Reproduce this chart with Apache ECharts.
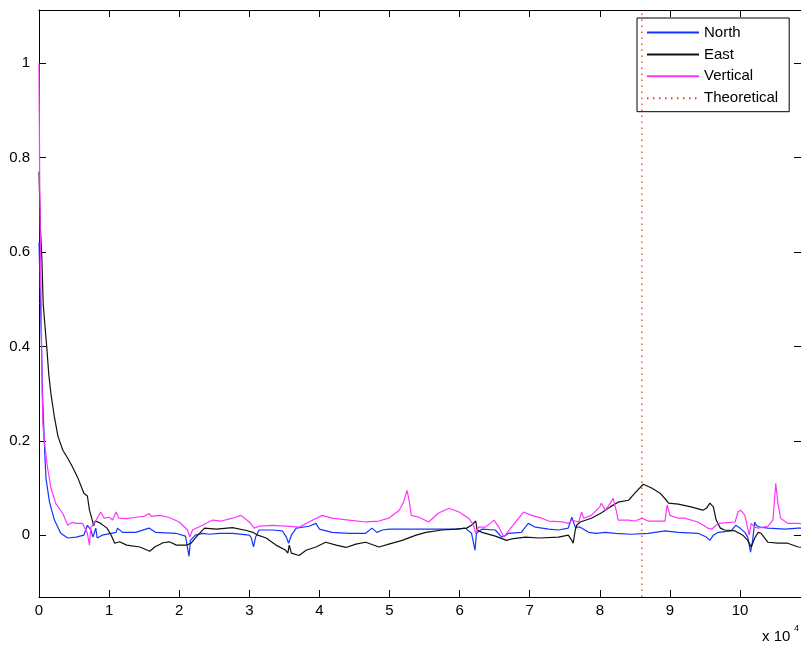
<!DOCTYPE html>
<html>
<head>
<meta charset="utf-8">
<script src="https://cdn.jsdelivr.net/npm/echarts@6/dist/echarts.min.js"></script>
<style>html,body{margin:0;padding:0;background:#fff}#c{width:801px;height:649px}</style>
</head>
<body>
<div id="c"></div>
<script>
// x values are in units of 10^4
const xTicks = [0,1,2,3,4,5,6,7,8,9,10];
const yTicks = [0,0.2,0.4,0.6,0.8,1];
const seriesNames = ['North','East','Vertical','Theoretical'];
const theoreticalX = 8.6;

const north = [[0,0.62],[0.03,0.44],[0.05,0.3],[0.07,0.22],[0.08,0.18],[0.1,0.12],[0.15,0.07],[0.22,0.032],[0.31,0.004],[0.41,-0.006],[0.53,-0.004],[0.64,0],[0.69,0.021],[0.74,0.011],[0.77,-0.004],[0.81,0.015],[0.83,-0.006],[0.9,0],[1.1,0.006],[1.12,0.015],[1.19,0.006],[1.38,0.006],[1.57,0.015],[1.66,0.006],[1.95,0.004],[2.09,-0.002],[2.14,-0.045],[2.16,-0.011],[2.23,0],[2.33,0.004],[2.43,0.002],[2.57,0.004],[2.76,0.004],[3.0,0],[3.03,-0.006],[3.06,-0.025],[3.09,-0.004],[3.14,0.011],[3.33,0.011],[3.47,0.009],[3.53,-0.004],[3.56,-0.017],[3.6,0],[3.67,0.015],[3.85,0.019],[3.95,0.025],[4.0,0.013],[4.18,0.006],[4.42,0.004],[4.66,0.004],[4.75,0.015],[4.82,0.006],[4.9,0.011],[5.0,0.013],[5.42,0.013],[5.66,0.013],[5.95,0.013],[6.08,0.015],[6.17,0.004],[6.22,-0.032],[6.24,0.004],[6.32,0.013],[6.51,0.011],[6.6,-0.004],[6.66,0],[6.7,0.004],[6.88,0.006],[6.98,0.025],[7.08,0.017],[7.27,0.013],[7.41,0.011],[7.55,0.015],[7.6,0.038],[7.62,0.036],[7.65,0.017],[7.72,0.017],[7.84,0.006],[7.95,0.004],[8.08,0.006],[8.22,0.004],[8.45,0.002],[8.69,0.004],[8.93,0.009],[9.12,0.006],[9.4,0.004],[9.52,-0.004],[9.57,-0.011],[9.62,0],[9.69,0.006],[9.87,0.009],[9.94,0.021],[10.0,0.015],[10.07,0.006],[10.11,-0.004],[10.15,-0.036],[10.18,-0.011],[10.21,0.028],[10.23,0.021],[10.28,0.017],[10.4,0.015],[10.64,0.013],[10.83,0.015],[10.9,0.015]];

const east = [[0,0.77],[0.02,0.65],[0.04,0.59],[0.06,0.49],[0.09,0.435],[0.11,0.40],[0.14,0.34],[0.17,0.30],[0.22,0.25],[0.27,0.21],[0.34,0.18],[0.41,0.163],[0.48,0.144],[0.55,0.123],[0.64,0.089],[0.69,0.083],[0.72,0.053],[0.76,0.032],[0.78,0.02],[0.8,0.03],[0.87,0.026],[0.97,0.015],[1.03,0.0],[1.08,-0.017],[1.15,-0.014],[1.25,-0.021],[1.44,-0.025],[1.58,-0.034],[1.65,-0.025],[1.77,-0.016],[1.86,-0.014],[1.96,-0.021],[2.1,-0.021],[2.17,-0.017],[2.24,-0.004],[2.36,0.015],[2.53,0.013],[2.76,0.016],[2.96,0.01],[3.05,0.006],[3.12,0],[3.24,-0.006],[3.38,-0.021],[3.52,-0.032],[3.55,-0.038],[3.57,-0.021],[3.6,-0.038],[3.71,-0.043],[3.81,-0.032],[3.95,-0.025],[4.09,-0.015],[4.24,-0.021],[4.38,-0.026],[4.52,-0.019],[4.66,-0.015],[4.85,-0.025],[4.99,-0.019],[5.18,-0.011],[5.38,0],[5.52,0.006],[5.75,0.011],[5.95,0.013],[6.1,0.015],[6.17,0.021],[6.23,0.03],[6.25,0.011],[6.32,0.006],[6.51,-0.002],[6.67,-0.011],[6.74,-0.008],[6.94,-0.004],[7.13,-0.006],[7.41,-0.004],[7.55,0],[7.6,-0.011],[7.62,-0.017],[7.65,0.011],[7.67,0.021],[7.72,0.028],[7.88,0.036],[8.02,0.047],[8.15,0.06],[8.26,0.07],[8.41,0.074],[8.5,0.089],[8.62,0.108],[8.74,0.1],[8.86,0.089],[8.95,0.074],[8.98,0.068],[9.12,0.066],[9.3,0.06],[9.47,0.053],[9.52,0.057],[9.57,0.068],[9.62,0.06],[9.66,0.032],[9.72,0.015],[9.78,0.011],[9.93,0.009],[10.04,0],[10.11,-0.011],[10.16,-0.025],[10.21,-0.006],[10.26,0.006],[10.3,0.004],[10.4,-0.015],[10.54,-0.017],[10.68,-0.017],[10.83,-0.025],[10.9,-0.026]];

const vertical = [[0,1.0],[0.01,0.75],[0.03,0.5],[0.045,0.3],[0.055,0.237],[0.075,0.2],[0.12,0.145],[0.17,0.1],[0.24,0.067],[0.34,0.046],[0.41,0.021],[0.47,0.027],[0.53,0.025],[0.62,0.025],[0.69,0.004],[0.72,-0.021],[0.74,0.017],[0.79,0.025],[0.83,0.036],[0.88,0.049],[0.93,0.036],[1.0,0.038],[1.05,0.032],[1.1,0.049],[1.14,0.036],[1.25,0.035],[1.38,0.038],[1.5,0.04],[1.57,0.046],[1.6,0.04],[1.72,0.042],[1.85,0.038],[2.0,0.028],[2.12,0.011],[2.15,-0.004],[2.19,0.011],[2.33,0.021],[2.48,0.032],[2.6,0.03],[2.76,0.036],[2.88,0.042],[3.0,0.028],[3.07,0.015],[3.14,0.019],[3.33,0.021],[3.52,0.019],[3.71,0.017],[3.85,0.028],[4.04,0.042],[4.18,0.036],[4.42,0.032],[4.66,0.028],[4.85,0.03],[4.99,0.036],[5.14,0.053],[5.2,0.07],[5.25,0.095],[5.28,0.074],[5.31,0.042],[5.42,0.038],[5.56,0.028],[5.7,0.047],[5.85,0.057],[5.99,0.049],[6.13,0.036],[6.2,0.021],[6.23,0.004],[6.27,0.017],[6.37,0.017],[6.49,0.032],[6.56,0.017],[6.63,-0.004],[6.67,0.004],[6.8,0.028],[6.91,0.049],[7.03,0.042],[7.17,0.036],[7.27,0.03],[7.48,0.028],[7.55,0.025],[7.6,0.032],[7.7,0.028],[7.74,0.049],[7.77,0.036],[7.88,0.042],[8.0,0.06],[8.02,0.068],[8.08,0.053],[8.15,0.068],[8.19,0.078],[8.24,0.049],[8.26,0.032],[8.41,0.032],[8.5,0.03],[8.6,0.036],[8.69,0.03],[8.83,0.03],[8.93,0.03],[8.96,0.064],[9.0,0.042],[9.02,0.038],[9.12,0.036],[9.21,0.036],[9.4,0.028],[9.54,0.015],[9.6,0.013],[9.69,0.025],[9.93,0.028],[9.97,0.049],[10.01,0.053],[10.07,0.042],[10.09,0.028],[10.13,0],[10.16,0.025],[10.21,0.017],[10.26,0.015],[10.4,0.019],[10.47,0.032],[10.51,0.11],[10.54,0.068],[10.58,0.036],[10.68,0.025],[10.83,0.025],[10.9,0.024]];

const xMin = 0, xMax = 10.87, yMin = -0.131, yMax = 1.113;
const theoretical = [[theoreticalX, yMin], [theoreticalX, yMax]];

const FONT = 'Liberation Sans, Arial, sans-serif';
const chart = echarts.init(document.getElementById('c'), null, {renderer: 'canvas'});
const axisCommon = {
  type: 'value',
  axisLine: {show: true, onZero: false, lineStyle: {color: '#000', width: 1}},
  axisTick: {show: true, inside: true, length: 7, lineStyle: {color: '#000'}},
  splitLine: {show: false}
};
chart.setOption({
  animation: false,
  backgroundColor: '#fff',
  grid: {left: 39, top: 10, right: -2, bottom: 52, containLabel: false},
  xAxis: [
    Object.assign({}, axisCommon, {min: xMin, max: xMax, position: 'bottom',
      axisTick: Object.assign({}, axisCommon.axisTick, {customValues: xTicks}),
      axisLabel: {customValues: xTicks, margin: 6, color: '#000', fontSize: 15, fontFamily: FONT}}),
    Object.assign({}, axisCommon, {min: xMin, max: xMax, position: 'top',
      axisTick: Object.assign({}, axisCommon.axisTick, {customValues: xTicks}),
      axisLabel: {show: false}})
  ],
  yAxis: [
    Object.assign({}, axisCommon, {min: yMin, max: yMax, position: 'left',
      axisTick: Object.assign({}, axisCommon.axisTick, {customValues: yTicks}),
      axisLabel: {customValues: yTicks, margin: 9, color: '#000', fontSize: 15, fontFamily: FONT}}),
    Object.assign({}, axisCommon, {min: yMin, max: yMax, position: 'right',
      axisTick: Object.assign({}, axisCommon.axisTick, {customValues: yTicks}),
      axisLabel: {show: false}})
  ],
  legend: {
    data: seriesNames, orient: 'vertical', left: 637, top: 18,
    backgroundColor: '#fff', borderColor: '#000', borderWidth: 1, borderRadius: 0,
    padding: [7, 11, 6, 9], itemWidth: 52, itemHeight: 14, itemGap: 6.9,
    textStyle: {color: '#000', fontSize: 15, fontFamily: FONT},
    itemStyle: {opacity: 0}
  },
  series: [
    {name: 'North', type: 'line', data: north, showSymbol: false, symbol: 'none',
      lineStyle: {color: '#1535ff', width: 1.2}, itemStyle: {color: '#1535ff'}, z: 2},
    {name: 'East', type: 'line', data: east, showSymbol: false, symbol: 'none',
      lineStyle: {color: '#111', width: 1.2}, itemStyle: {color: '#111'}, z: 3},
    {name: 'Vertical', type: 'line', data: vertical, showSymbol: false, symbol: 'none',
      lineStyle: {color: '#ff33ff', width: 1.2}, itemStyle: {color: '#ff33ff'}, z: 4},
    {name: 'Theoretical', type: 'line', data: theoretical, showSymbol: false, symbol: 'none',
      lineStyle: {color: '#ff3020', width: 1.3, type: [1.5, 4.5]}, itemStyle: {color: '#ff3020'}, z: 5}
  ],
  graphic: [
    {type: 'text', left: 762, top: 629, style: {text: 'x 10', fill: '#000', font: '15px ' + FONT}},
    {type: 'text', left: 794, top: 624, style: {text: '4', fill: '#000', font: '9px ' + FONT}}
  ]
});
</script>
</body>
</html>
